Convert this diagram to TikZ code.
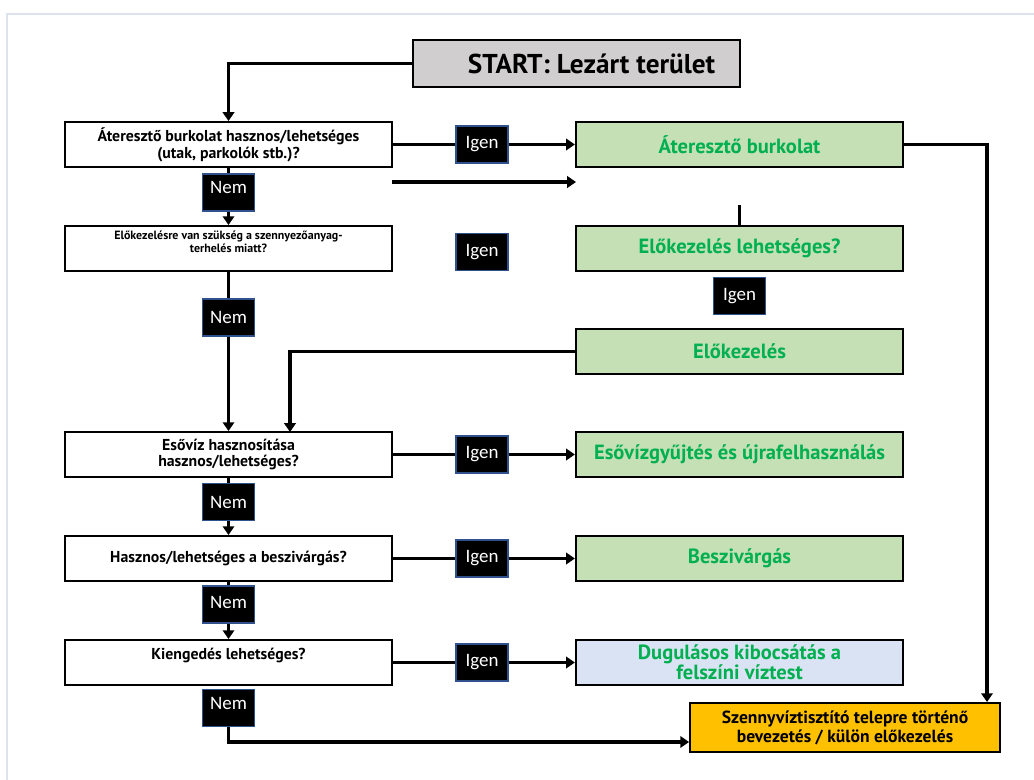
\documentclass[tikz,border=0pt]{standalone}
\usepackage{fontspec}
\setmainfont{PT Sans}
\newfontfamily\lblfont{Carlito}
\usetikzlibrary{arrows.meta}
\definecolor{framegray}{HTML}{DDE3EA}
\definecolor{startgray}{HTML}{D0CECE}
\definecolor{boxgreen}{HTML}{C5E0B4}
\definecolor{textgreen}{HTML}{00B050}
\definecolor{boxblue}{HTML}{DAE3F3}
\definecolor{boxorange}{HTML}{FFC000}
\definecolor{tagblue}{HTML}{2F528F}
\begin{document}
\begin{tikzpicture}[x=0.02cm,y=0.02cm,
    qbox/.style={draw=black, line width=1.1pt, fill=white, minimum width=6.54cm,
      minimum height=0.9cm, inner sep=1pt, align=center,
      font=\bfseries\fontsize{9}{9.6}\selectfont},
    abox/.style={draw=black, line width=1.3pt, fill=boxgreen, text=textgreen,
      minimum width=6.54cm, minimum height=0.9cm, inner sep=1pt, align=center,
      font=\bfseries\fontsize{11.7}{11.5}\selectfont},
    tagbox/.style={draw=tagblue, line width=0.7pt, fill=black, text=white,
      minimum width=1.04cm, minimum height=0.74cm, inner sep=0pt,
      font=\lblfont\fontsize{10.8}{12}\selectfont},
    conn/.style={line width=2.2pt},
    arr/.style={conn, -{Triangle[length=5pt,width=6.5pt]}}]
      \useasboundingbox (0,0) rectangle (1034,-780);
      % frame
      \draw[framegray, line width=1.2pt] (7,-790) -- (7,-14) -- (1040,-14);
      % start
      \node[draw=black, line width=1.1pt, fill=startgray, minimum width=6.54cm,
        minimum height=0.94cm, font=\bfseries\fontsize{15.5}{17}\selectfont]
        at (576.5,-63.5) (S) {\hspace*{0.6cm}START: Lezárt terület};
      % questions
      \node[qbox] at (228.5,-144.5) (Q1) {Áteresztő burkolat hasznos/lehetséges\\(utak, parkolók stb.)?};
      \node[qbox, font=\bfseries\fontsize{6.8}{7.8}\selectfont] at (228.5,-248.5) (Q2)
        {Előkezelésre van szükség a szennyezőanyag-\\terhelés miatt?\\\mbox{}};
      \node[qbox] at (228.5,-454.5) (Q3) {Esővíz hasznosítása\\hasznos/lehetséges?};
      \node[qbox] at (228.5,-558.5) (Q4) {Hasznos/lehetséges a beszivárgás?};
      \node[qbox] at (228.5,-662.5) (Q5) {Kiengedés lehetséges?\\\mbox{}};
      % answers
      \node[abox] at (739.5,-144.5) (A1) {Áteresztő burkolat};
      \node[abox] at (739.5,-248.5) (A2) {Előkezelés lehetséges?};
      \node[abox] at (739.5,-351.5) (A3) {Előkezelés};
      \node[abox] at (739.5,-454.5) (A4) {Esővízgyűjtés és újrafelhasználás};
      \node[abox] at (739.5,-558.5) (A5) {Beszivárgás};
      \node[abox, fill=boxblue] at (739.5,-662.5) (A6) {Dugulásos kibocsátás a\\felszíni víztest};
      \node[draw=black, line width=1.1pt, fill=boxorange, minimum width=6.2cm,
        minimum height=0.98cm, align=center, font=\bfseries\fontsize{10}{10.8}\selectfont]
        at (845,-727.5) (E) {Szennyvíztisztító telepre történő\\bevezetés / külön előkezelés};
      % yes tags
      \node[tagbox] at (482,-144.5) (Y1) {Igen};
      \node[tagbox] at (482,-252) (Y2) {Igen};
      \node[tagbox] at (739.5,-296) (Y3) {Igen};
      \node[tagbox] at (482,-454.5) (Y4) {Igen};
      \node[tagbox] at (482,-558.5) (Y5) {Igen};
      \node[tagbox] at (482,-662.5) (Y6) {Igen};
      % no tags
      \node[tagbox] at (228.5,-192.5) (N1) {\raisebox{5.5pt}{Nem}};
      \node[tagbox] at (228.5,-317.5) (N2) {Nem};
      \node[tagbox] at (228.5,-502) (N3) {Nem};
      \node[tagbox] at (228.5,-604.5) (N4) {\raisebox{2pt}{Nem}};
      \node[tagbox] at (228.5,-708) (N5) {\raisebox{5.5pt}{Nem}};
      % free ends
      \coordinate (F1) at (392,-182);
      \coordinate (F2) at (576,-182);
      \coordinate (F3) at (739.5,-205);
      \coordinate (R1) at (987,-144.5);
      \coordinate (M3) at (290,-432);
      % left column
      \draw[arr] (S.west) -| (Q1.north);
      \draw[conn] (Q1.south) -- (N1.north);
      \draw[arr] (N1.south) -- (Q2.north);
      \draw[conn] (Q2.south) -- (N2.north);
      \draw[arr] (N2.south) -- (Q3.north);
      \draw[conn] (Q3.south) -- (N3.north);
      \draw[arr] (N3.south) -- (Q4.north);
      \draw[conn] (Q4.south) -- (N4.north);
      \draw[arr] (N4.south) -- (Q5.north);
      \draw[arr] (N5.south) |- ([yshift=-0.29cm]E.west);
      % yes lines
      \draw[conn] (Q1.east) -- (Y1.west);
      \draw[arr] (Y1.east) -- (A1.west);
      \draw[arr] (F1) -- (F2);
      \draw[conn] (F3) -- (A2.north);
      \draw[arr] (A3.west) -| (M3);
      \draw[conn] (Q3.east) -- (Y4.west);
      \draw[arr] (Y4.east) -- (A4.west);
      \draw[conn] (Q4.east) -- (Y5.west);
      \draw[arr] (Y5.east) -- (A5.west);
      \draw[conn] (Q5.east) -- (Y6.west);
      \draw[arr] (Y6.east) -- (A6.west);
      % right side
      \draw[arr] (A1.east) -- (R1) -- (R1 |- E.north);
    \end{tikzpicture}
\end{document}
